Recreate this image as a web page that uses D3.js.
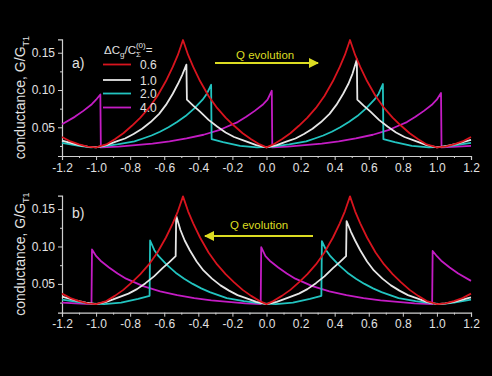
<!DOCTYPE html>
<html><head><meta charset="utf-8">
<script src="https://cdn.jsdelivr.net/npm/d3@7"></script>
<style>
body{margin:0;background:#000;}
svg{display:block;background:#000;}
text{font-family:"Liberation Sans",Arial,sans-serif;}
</style>
</head><body>
<svg id="chart" width="492" height="376"></svg>
<script>
// ---------- data ----------
const xMajorTicks = [-1.2,-1.0,-0.8,-0.6,-0.4,-0.2,0.0,0.2,0.4,0.6,0.8,1.0,1.2];
const xMinorTicks = [-1.1,-0.9,-0.7,-0.5,-0.3,-0.1,0.1,0.3,0.5,0.7,0.9,1.1];
const yMajorTicks = [0.05,0.10,0.15];
const yMinorTicks = [0.025,0.075,0.125];
const seriesNames = ["0.6","1.0","2.0","4.0"];
const seriesColors = ["#d8141e","#e6e6e6","#22c4c0","#c41cc4"];

// panel a) (Q evolution to the right)
const redA = [[-1.2,0.037],[-1.15,0.031],[-1.1,0.027],[-1.05,0.024],[-1.0,0.023],[-0.94,0.027],[-0.89,0.034],[-0.84,0.042],[-0.79,0.052],[-0.74,0.063],[-0.69,0.076],[-0.64,0.092],[-0.59,0.112],[-0.55,0.131],[-0.52,0.147],[-0.49,0.167],[-0.46,0.147],[-0.43,0.131],[-0.39,0.112],[-0.34,0.092],[-0.29,0.076],[-0.24,0.063],[-0.19,0.052],[-0.14,0.042],[-0.09,0.034],[-0.04,0.027],[0.0,0.023],[0.04,0.027],[0.09,0.034],[0.14,0.042],[0.19,0.052],[0.24,0.063],[0.29,0.076],[0.34,0.092],[0.39,0.112],[0.43,0.131],[0.46,0.147],[0.49,0.167],[0.52,0.147],[0.55,0.131],[0.59,0.112],[0.64,0.092],[0.69,0.076],[0.74,0.063],[0.79,0.052],[0.84,0.042],[0.89,0.034],[0.94,0.027],[1.0,0.023],[1.05,0.024],[1.1,0.027],[1.15,0.031],[1.2,0.037]];
const whiteA = [[-1.2,0.032],[-1.15,0.029],[-1.1,0.026],[-1.05,0.024],[-1.0,0.023],[-0.94,0.026],[-0.88,0.031],[-0.83,0.035],[-0.78,0.041],[-0.73,0.048],[-0.68,0.057],[-0.63,0.068],[-0.59,0.080],[-0.55,0.095],[-0.52,0.108],[-0.495,0.120],[-0.47,0.134],[-0.467,0.087],[-0.43,0.079],[-0.39,0.071],[-0.34,0.060],[-0.29,0.051],[-0.24,0.043],[-0.19,0.037],[-0.12,0.031],[-0.06,0.026],[0.0,0.023],[0.06,0.026],[0.12,0.031],[0.17,0.035],[0.22,0.041],[0.27,0.048],[0.32,0.057],[0.37,0.068],[0.41,0.080],[0.45,0.095],[0.48,0.108],[0.505,0.122],[0.53,0.141],[0.533,0.087],[0.57,0.079],[0.61,0.071],[0.66,0.060],[0.71,0.051],[0.76,0.043],[0.81,0.037],[0.88,0.031],[0.94,0.026],[1.0,0.023],[1.06,0.025],[1.12,0.028],[1.2,0.033]];
const cyanA = [[-1.2,0.029],[-1.1,0.025],[-1.03,0.023],[-0.975,0.024],[-0.875,0.027],[-0.775,0.031],[-0.725,0.035],[-0.675,0.039],[-0.625,0.044],[-0.575,0.050],[-0.525,0.057],[-0.475,0.065],[-0.425,0.075],[-0.375,0.087],[-0.35,0.095],[-0.325,0.107],[-0.322,0.034],[-0.255,0.030],[-0.155,0.025],[-0.055,0.023],[0.033,0.024],[0.133,0.027],[0.233,0.031],[0.283,0.035],[0.333,0.039],[0.383,0.044],[0.433,0.050],[0.483,0.057],[0.533,0.065],[0.583,0.075],[0.633,0.087],[0.658,0.095],[0.683,0.108],[0.686,0.034],[0.753,0.030],[0.853,0.025],[0.953,0.023],[1.05,0.024],[1.2,0.029]];
const magentaA = [[-1.2,0.054],[-1.125,0.064],[-1.075,0.072],[-1.025,0.081],[-1.0,0.087],[-0.975,0.094],[-0.972,0.023],[-0.869,0.024],[-0.769,0.026],[-0.669,0.028],[-0.569,0.031],[-0.469,0.035],[-0.369,0.040],[-0.269,0.047],[-0.219,0.052],[-0.169,0.057],[-0.119,0.064],[-0.069,0.072],[-0.019,0.081],[0.006,0.087],[0.031,0.099],[0.034,0.023],[0.124,0.024],[0.224,0.026],[0.324,0.028],[0.424,0.031],[0.524,0.035],[0.624,0.040],[0.724,0.047],[0.774,0.052],[0.824,0.057],[0.874,0.064],[0.924,0.072],[0.974,0.081],[0.999,0.087],[1.024,0.096],[1.027,0.023],[1.12,0.024],[1.2,0.025]];

// panel b) (Q evolution to the left)
const redB = [[-1.2,0.037],[-1.15,0.031],[-1.1,0.027],[-1.05,0.024],[-1.0,0.023],[-0.94,0.027],[-0.89,0.034],[-0.84,0.042],[-0.79,0.052],[-0.74,0.063],[-0.69,0.076],[-0.64,0.092],[-0.59,0.112],[-0.55,0.131],[-0.52,0.147],[-0.49,0.167],[-0.46,0.147],[-0.43,0.131],[-0.39,0.112],[-0.34,0.092],[-0.29,0.076],[-0.24,0.063],[-0.19,0.052],[-0.14,0.042],[-0.09,0.034],[-0.04,0.027],[0.0,0.023],[0.04,0.027],[0.09,0.034],[0.14,0.042],[0.19,0.052],[0.24,0.063],[0.29,0.076],[0.34,0.092],[0.39,0.112],[0.43,0.131],[0.46,0.147],[0.49,0.167],[0.52,0.147],[0.55,0.131],[0.59,0.112],[0.64,0.092],[0.69,0.076],[0.74,0.063],[0.79,0.052],[0.84,0.042],[0.89,0.034],[0.94,0.027],[1.0,0.023],[1.05,0.024],[1.1,0.027],[1.15,0.031],[1.2,0.037]];
const whiteB = [[-1.2,0.033],[-1.12,0.028],[-1.06,0.025],[-1.0,0.023],[-0.94,0.026],[-0.88,0.031],[-0.81,0.037],[-0.76,0.043],[-0.71,0.051],[-0.66,0.060],[-0.61,0.071],[-0.57,0.079],[-0.533,0.087],[-0.53,0.141],[-0.505,0.122],[-0.48,0.108],[-0.45,0.095],[-0.41,0.080],[-0.37,0.068],[-0.32,0.057],[-0.27,0.048],[-0.22,0.041],[-0.17,0.035],[-0.12,0.031],[-0.06,0.026],[0.0,0.023],[0.06,0.026],[0.12,0.031],[0.19,0.037],[0.24,0.043],[0.29,0.051],[0.34,0.060],[0.39,0.071],[0.43,0.079],[0.467,0.087],[0.47,0.134],[0.495,0.120],[0.52,0.108],[0.55,0.095],[0.59,0.080],[0.63,0.068],[0.68,0.057],[0.73,0.048],[0.78,0.041],[0.83,0.035],[0.88,0.031],[0.94,0.026],[1.0,0.023],[1.05,0.024],[1.1,0.026],[1.15,0.029],[1.2,0.032]];
const cyanB = [[-1.2,0.029],[-1.05,0.024],[-0.953,0.023],[-0.853,0.025],[-0.753,0.030],[-0.686,0.034],[-0.683,0.108],[-0.658,0.095],[-0.633,0.087],[-0.583,0.075],[-0.533,0.065],[-0.483,0.057],[-0.433,0.050],[-0.383,0.044],[-0.333,0.039],[-0.283,0.035],[-0.233,0.031],[-0.133,0.027],[-0.033,0.024],[0.055,0.023],[0.155,0.025],[0.255,0.030],[0.322,0.034],[0.325,0.107],[0.35,0.095],[0.375,0.087],[0.425,0.075],[0.475,0.065],[0.525,0.057],[0.575,0.050],[0.625,0.044],[0.675,0.039],[0.725,0.035],[0.775,0.031],[0.875,0.027],[0.975,0.024],[1.03,0.023],[1.1,0.025],[1.2,0.029]];
const magentaB = [[-1.2,0.025],[-1.12,0.024],[-1.027,0.023],[-1.024,0.096],[-0.999,0.087],[-0.974,0.081],[-0.924,0.072],[-0.874,0.064],[-0.824,0.057],[-0.774,0.052],[-0.724,0.047],[-0.624,0.040],[-0.524,0.035],[-0.424,0.031],[-0.324,0.028],[-0.224,0.026],[-0.124,0.024],[-0.034,0.023],[-0.031,0.099],[-0.006,0.087],[0.019,0.081],[0.069,0.072],[0.119,0.064],[0.169,0.057],[0.219,0.052],[0.269,0.047],[0.369,0.040],[0.469,0.035],[0.569,0.031],[0.669,0.028],[0.769,0.026],[0.869,0.024],[0.972,0.023],[0.975,0.094],[1.0,0.087],[1.025,0.081],[1.075,0.072],[1.125,0.064],[1.2,0.054]];

// ---------- drawing ----------
const svg = d3.select("#chart");
const axisColor = "#cfcfcf";
const textColor = "#e2e2e2";
const yellow = "#dcdc22";

const x = d3.scaleLinear().domain([-1.2, 1.2]).range([62, 471]);

const panels = [
  {name:"a)", top:39.3, bottom:156, series:[redA, whiteA, cyanA, magentaA], dir:1, labelY:63, qy:55, ay:63},
  {name:"b)", top:195.6, bottom:312.7, series:[redB, whiteB, cyanB, magentaB], dir:-1, labelY:213, qy:225, ay:236}
];

const defs = svg.append("defs");
defs.append("marker").attr("id","ah").attr("viewBox","0 0 10 10").attr("refX",9).attr("refY",5)
  .attr("markerWidth",5).attr("markerHeight",5).attr("orient","auto-start-reverse")
  .append("path").attr("d","M0,0L10,5L0,10z").attr("fill",yellow);

panels.forEach((p, pi) => {
  const y = d3.scaleLinear().domain([0.0115, 0.168]).range([p.bottom, p.top]);
  const g = svg.append("g");

  // axes
  const xa = g.append("g").attr("transform",`translate(0,${p.bottom})`)
    .call(d3.axisBottom(x).tickValues(xMajorTicks).tickSize(4).tickPadding(3).tickFormat(d => d.toFixed(1)));
  const xm = g.append("g").attr("transform",`translate(0,${p.bottom})`)
    .call(d3.axisBottom(x).tickValues(xMinorTicks).tickSize(2).tickFormat(""));
  const ya = g.append("g").attr("transform",`translate(62,0)`)
    .call(d3.axisLeft(y).tickValues(yMajorTicks).tickSize(4).tickPadding(3).tickFormat(d => d.toFixed(2)));
  const ym = g.append("g").attr("transform",`translate(62,0)`)
    .call(d3.axisLeft(y).tickValues(yMinorTicks).tickSize(2).tickFormat(""));
  [xa,xm,ya,ym].forEach(a => {
    a.selectAll("path.domain").attr("stroke",axisColor).attr("stroke-width",1.2);
    a.selectAll("line").attr("stroke",axisColor).attr("stroke-width",1);
    a.selectAll("text").attr("fill",textColor).attr("font-size",12).attr("font-family","Liberation Sans, Arial, sans-serif");
  });
  xm.select("path.domain").remove();
  ym.select("path.domain").remove();

  // curves
  const line = d3.line().x(d => x(d[0])).y(d => y(d[1])).curve(d3.curveLinear);
  const order = [3,2,1,0];
  order.forEach(i => {
    g.append("path").datum(p.series[i]).attr("d", line)
      .attr("fill","none").attr("stroke", seriesColors[i]).attr("stroke-width",1.8)
      .attr("stroke-linejoin","round");
  });

  // y label
  const yl = g.append("text").attr("transform",`translate(25,${(p.top+p.bottom)/2}) rotate(-90)`)
    .attr("text-anchor","middle").attr("fill",textColor).attr("font-size",14);
  yl.append("tspan").text("conductance, G/G");
  yl.append("tspan").attr("font-size",9).attr("dy",4).text("T1");

  // panel label
  g.append("text").attr("x",72).attr("y",p.labelY+5).attr("fill",textColor).attr("font-size",14).text(p.name);

  // Q evolution
  if (p.dir > 0) {
    g.append("text").attr("x",236).attr("y",p.qy+4).attr("fill",yellow).attr("font-size",11.5).text("Q evolution");
    g.append("line").attr("x1",215).attr("x2",318).attr("y1",p.ay).attr("y2",p.ay)
      .attr("stroke",yellow).attr("stroke-width",2).attr("marker-end","url(#ah)");
  } else {
    g.append("text").attr("x",230).attr("y",p.qy+4).attr("fill",yellow).attr("font-size",11.5).text("Q evolution");
    g.append("line").attr("x1",205).attr("x2",313).attr("y1",p.ay).attr("y2",p.ay)
      .attr("stroke",yellow).attr("stroke-width",2).attr("marker-start","url(#ah)");
  }

  // legend (panel a only)
  if (pi === 0) {
    const lt = g.append("text").attr("x",104).attr("y",54).attr("fill",textColor).attr("font-size",11.5);
    lt.append("tspan").text("ΔC");
    lt.append("tspan").attr("font-size",8).attr("dy",3).text("g");
    lt.append("tspan").attr("dy",-3).text("/C");
    lt.append("tspan").attr("font-size",8).attr("dy",3).text("Σ");
    lt.append("tspan").attr("font-size",8).attr("dx",-5).attr("dy",-9).text("(0)");
    lt.append("tspan").attr("dy",6).text("=");
    const rowsY = [64.5, 80, 93.5, 107.5];
    seriesNames.forEach((nm, i) => {
      g.append("line").attr("x1",103).attr("x2",131).attr("y1",rowsY[i]).attr("y2",rowsY[i])
        .attr("stroke",seriesColors[i]).attr("stroke-width",1.8);
      g.append("text").attr("x",140).attr("y",rowsY[i]+4.5).attr("fill",textColor).attr("font-size",12).text(nm);
    });
  }
});
</script>
</body></html>
